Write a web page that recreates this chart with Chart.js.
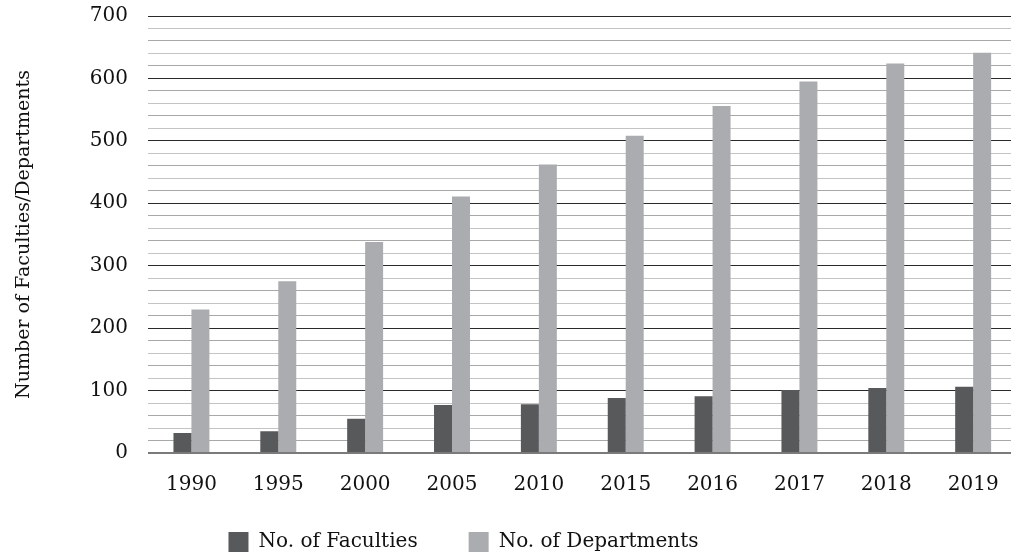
<!DOCTYPE html>
<html>
<head>
<meta charset="utf-8">
<script src="https://cdn.jsdelivr.net/npm/chart.js@4.4.1/dist/chart.umd.min.js"></script>
<style>
  html, body { margin: 0; padding: 0; background: #fff; }
  #wrap { width: 1011px; height: 559px; }
</style>
</head>
<body>
<div id="wrap"><canvas id="chart"></canvas></div>
<script>
const years = ["1990", "1995", "2000", "2005", "2010", "2015", "2016", "2017", "2018", "2019"];
const faculties = [32, 35, 55, 77, 78, 88, 91, 101, 104, 106];
const departments = [230, 275, 338, 411, 462, 508, 556, 595, 624, 641];

const serif = "'DejaVu Serif', 'Liberation Serif', serif";

// nudge the legend a bit left like the original, let the squeezed
// x axis labels draw past its box, and run the plot a little past the
// right edge of the canvas (the original is cropped there)
const layoutTweaks = {
  id: "layoutTweaks",
  afterLayout(chart) {
    chart.legend.left -= 42;
    chart.legend.right -= 42;
    const x = chart.scales.x;
    x.bottom += 40;
    x.height += 40;
    x.right += 8;
    x.width += 8;
    chart.chartArea.right += 8;
    chart.chartArea.width += 8;
    x.configure();
  },
};

function makeChart(ctx) {
  let config = {
    type: "bar",
    data: {
      labels: years,
      datasets: [
        {
          label: "No. of Faculties",
          data: faculties,
          backgroundColor: "#58595b",
          borderWidth: 0,
        },
        {
          label: "No. of Departments",
          data: departments,
          backgroundColor: "#abacaf",
          borderWidth: 0,
        },
      ],
    },
    options: {
      responsive: true,
      maintainAspectRatio: false,
      animation: false,
      datasets: {
        bar: { categoryPercentage: 0.414, barPercentage: 1 },
      },
      layout: { padding: { top: 16, right: 0, bottom: -3, left: 0 } },
      plugins: {
        tooltip: { enabled: false },
        legend: {
          position: "bottom",
          labels: {
            boxWidth: 20,
            boxHeight: 20,
            padding: 51,
            color: "#111",
            font: { family: serif, size: 20 },
          },
        },
      },
      scales: {
        x: {
          afterFit: (s) => { s.height = 28; },
          grid: { display: false, drawTicks: false },
          border: { display: false },
          ticks: {
            color: "#111",
            padding: 20,
            font: { family: serif, size: 20 },
          },
        },
        y: {
          min: 0,
          max: 700,
          afterFit: (s) => {
            s.width = 148;
            s.paddingTop = 0;
            s.paddingBottom = 0;
          },
          border: { display: false },
          grid: {
            drawTicks: false,
            color: (c) => {
              const v = c.tick.value;
              if (v === 0) return "#7a7a7a";
              if (v % 100 === 0) return "#2a2a2a";
              return v % 40 === 0 ? "#c4c4c4" : "#a8a8a8";
            },
            lineWidth: (c) => (c.tick.value === 0 ? 2 : 1),
          },
          ticks: {
            stepSize: 20,
            autoSkip: false,
            padding: 20,
            color: "#111",
            font: { family: serif, size: 20 },
            callback: (v) => (v % 100 === 0 ? v : ""),
          },
          title: {
            display: true,
            text: "Number of Faculties/Departments",
            color: "#111",
            padding: { top: 13, bottom: 0 },
            font: { family: serif, size: 19 },
          },
        },
      },
    },
    plugins: [layoutTweaks],
  };
  return new Chart(ctx, config);
}

makeChart(document.getElementById("chart"));
</script>
</body>
</html>
